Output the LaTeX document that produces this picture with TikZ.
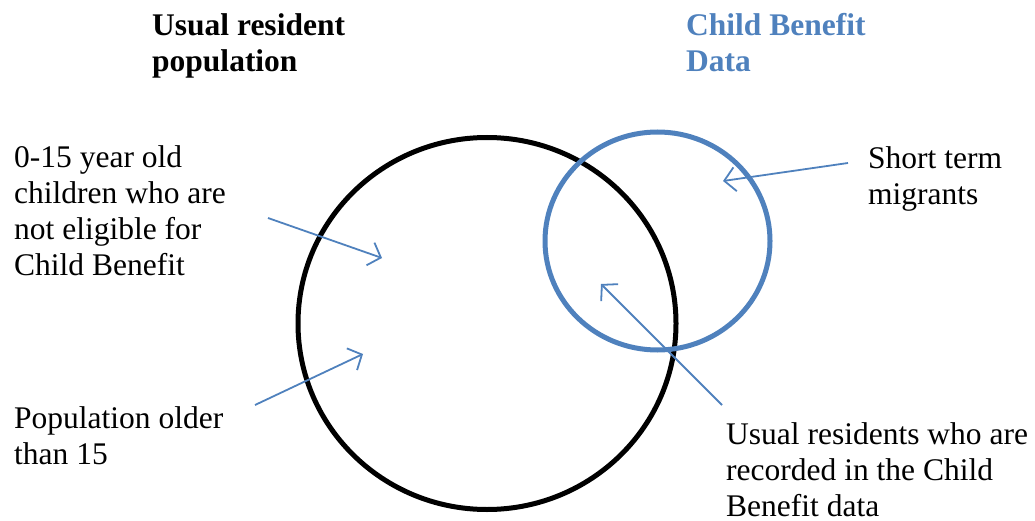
\documentclass[tikz,border=0pt]{standalone}
\usepackage{fontspec}
\setmainfont{Liberation Serif}
\usetikzlibrary{arrows.meta}
\definecolor{cbblue}{HTML}{4F81BD}
\tikzset{
  lbl/.style={anchor=base west, align=left, inner sep=0pt, font=\fontsize{31.5}{36}\selectfont},
  ttl/.style={lbl, font=\fontsize{31.5}{36}\selectfont\bfseries},
  ptr/.style={draw=cbblue, line width=1.8pt, -{Straight Barb[length=11pt,width=24pt,line width=1.8pt]}},
  ring/.style={line width=5pt}
}
\begin{document}
\begin{tikzpicture}[x=1pt,y=-1pt]
\useasboundingbox (0,0) rectangle (1035,521);
% circles
\draw[ring, black] (487,323.5) ellipse [x radius=189, y radius=186];
\draw[ring, cbblue] (657.5,241) ellipse [x radius=112.5, y radius=109];
% titles (anchor = baseline of last line)
\node[ttl] (usual) at (152,72) {Usual resident\\population};
\node[ttl, text=cbblue] (cbd) at (686,72) {Child Benefit\\Data};
% labels
\node[lbl] (kids) at (14,276) {0-15 year old\\children who are\\not eligible for\\Child Benefit};
\node[lbl] (older) at (14,464) {Population older\\than 15};
\node[lbl] (stm) at (868,205) {Short term\\migrants};
\node[lbl] (urc) at (726,516) {Usual residents who are\\recorded in the Child\\Benefit data};
% arrow endpoints
\coordinate (a1s) at (268,218); \coordinate (a1e) at (382,258);
\coordinate (a2s) at (255,405); \coordinate (a2e) at (363,354);
\coordinate (a3s) at (848,163); \coordinate (a3e) at (723,181);
\coordinate (a4s) at (722,405); \coordinate (a4e) at (601,284);
\draw[ptr] (a1s) -- (a1e);
\draw[ptr] (a2s) -- (a2e);
\draw[ptr] (a3s) -- (a3e);
\draw[ptr] (a4s) -- (a4e);
\end{tikzpicture}
\end{document}
